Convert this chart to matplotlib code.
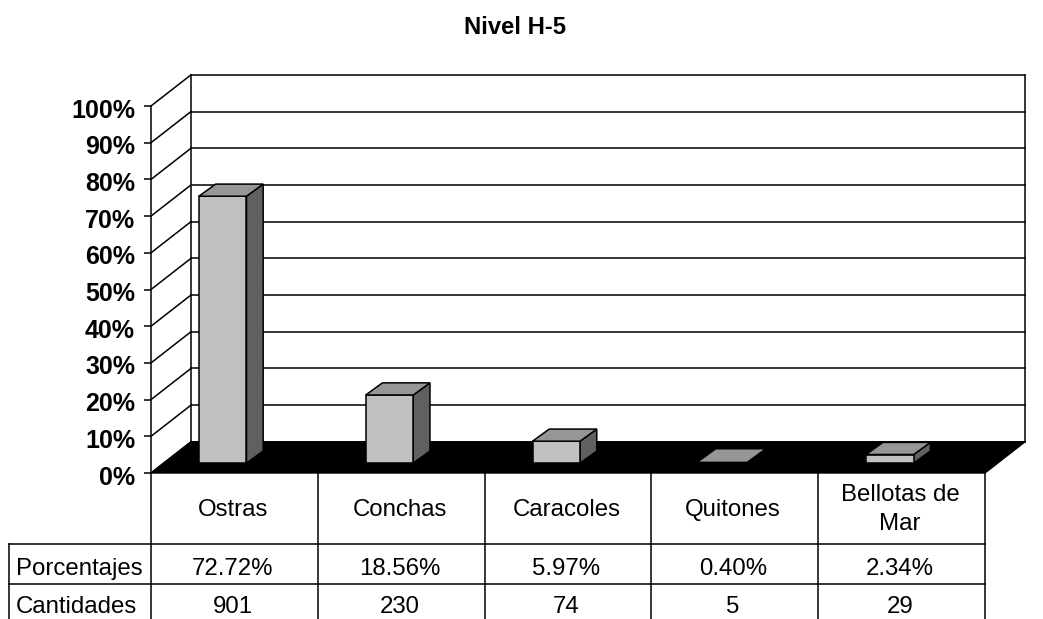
import matplotlib
matplotlib.use('Agg')
import matplotlib.pyplot as plt
from matplotlib.transforms import ScaledTranslation

plt.rcParams['font.family'] = ['Liberation Sans', 'DejaVu Sans']

# Values from the data table under the chart
categorias = ['Ostras', 'Conchas', 'Caracoles', 'Quitones', 'Bellotas de\nMar']
porcentajes = [72.72, 18.56, 5.97, 0.40, 2.34]
cantidades = [901, 230, 74, 5, 29]
y_ticks = [0, 10, 20, 30, 40, 50, 60, 70, 80, 90, 100]

W, H = 1043, 619
fig = plt.figure(figsize=(W / 100, H / 100), dpi=100)
# axes box is the front plane of the 3D chart
ax = fig.add_axes([151 / W, 1 - 473 / H, 834 / W, 367 / H])
ax.set_xlim(0, 5)
ax.set_ylim(0, 100)

# depth of the chart box, in data units
dx, dy = 0.24, 8.5
# bars sit a bit inside the floor and have their own smaller depth
bar_base, bar_dx, bar_dy = 2.7, 0.10, 3.3
bar_w, bar_shift = 0.285, -0.07

LW = 1.1

# back wall and side wall
for v in y_ticks:
    ax.plot([dx, 5 + dx], [v + dy, v + dy], color='black', lw=LW, clip_on=False, zorder=1)
    ax.plot([0, dx], [v, v + dy], color='black', lw=LW, clip_on=False, zorder=1)
ax.plot([dx, dx], [dy, 100 + dy], color='black', lw=LW, clip_on=False, zorder=1)
ax.plot([5 + dx, 5 + dx], [dy, 100 + dy], color='black', lw=LW, clip_on=False, zorder=1)

# floor
ax.fill([0, 5, 5 + dx, dx], [0, 0, dy, dy], color='black', clip_on=False, zorder=2)

# bars
for i, p in enumerate(porcentajes):
    x0 = i + 0.5 + bar_shift - bar_w / 2
    x1 = x0 + bar_w
    y0 = bar_base
    y1 = bar_base + p
    if p < 1:
        # almost no height, only the top face shows
        ax.fill([x0, x1, x1 + bar_dx, x0 + bar_dx], [y1, y1, y1 + bar_dy, y1 + bar_dy],
                facecolor='#969696', edgecolor='none', clip_on=False, zorder=4)
        continue
    ax.fill([x1, x1 + bar_dx, x1 + bar_dx, x1], [y0, y0 + bar_dy, y1 + bar_dy, y1],
            facecolor='#606060', edgecolor='black', lw=LW, clip_on=False, zorder=3)
    ax.bar(x0, p, width=bar_w, bottom=y0, align='edge', color='#C0C0C0',
           edgecolor='black', lw=LW, clip_on=False, zorder=3)
    ax.fill([x0, x1, x1 + bar_dx, x0 + bar_dx], [y1, y1, y1 + bar_dy, y1 + bar_dy],
            facecolor='#969696', edgecolor='black', lw=LW, clip_on=False, zorder=4)

# axis
for s in ['top', 'right', 'bottom']:
    ax.spines[s].set_visible(False)
ax.spines['left'].set_linewidth(LW)
ax.set_xticks([])
ax.set_yticks(y_ticks)
ax.set_yticklabels([f'{v}%' for v in y_ticks], fontsize=18, fontweight='bold')
ax.tick_params(axis='y', length=5, width=LW, pad=6.5)
# labels sit slightly below their ticks in the original
nudge = ScaledTranslation(0, -1.5 / 72, fig.dpi_scale_trans)
for lab in ax.get_yticklabels():
    lab.set_transform(lab.get_transform() + nudge)
ax.patch.set_alpha(0)

# data table below the axis
y_top, y_r1, y_r2, y_bot = 0, -19.3, -30.2, -40.5
x_left = -0.85
for i in range(6):
    ax.plot([i, i], [y_top, y_bot], color='black', lw=LW, clip_on=False)
ax.plot([x_left, x_left], [y_r1, y_bot], color='black', lw=LW, clip_on=False)
ax.plot([x_left, 5], [y_r1, y_r1], color='black', lw=LW, clip_on=False)
ax.plot([x_left, 5], [y_r2, y_r2], color='black', lw=LW, clip_on=False)

fs = 17.3
y_cat, y_pct, y_cant = -10.0, -26.2, -36.4
ax.text(-0.81, y_pct, 'Porcentajes', fontsize=fs, va='center', ha='left')
ax.text(-0.81, y_cant, 'Cantidades', fontsize=fs, va='center', ha='left')
for i in range(5):
    ax.text(i + 0.49, y_cat, categorias[i], fontsize=fs, ha='center', va='center',
            linespacing=1.4)
    ax.text(i + 0.49, y_pct, f'{porcentajes[i]:.2f}%', fontsize=fs,
            ha='center', va='center')
    ax.text(i + 0.49, y_cant, str(cantidades[i]), fontsize=fs, ha='center', va='center')

fig.text(515.5 / W, 1 - 27 / H, 'Nivel H-5', fontsize=17.2, fontweight='bold',
         ha='center', va='center')

fig.savefig('out.png', dpi=100)
